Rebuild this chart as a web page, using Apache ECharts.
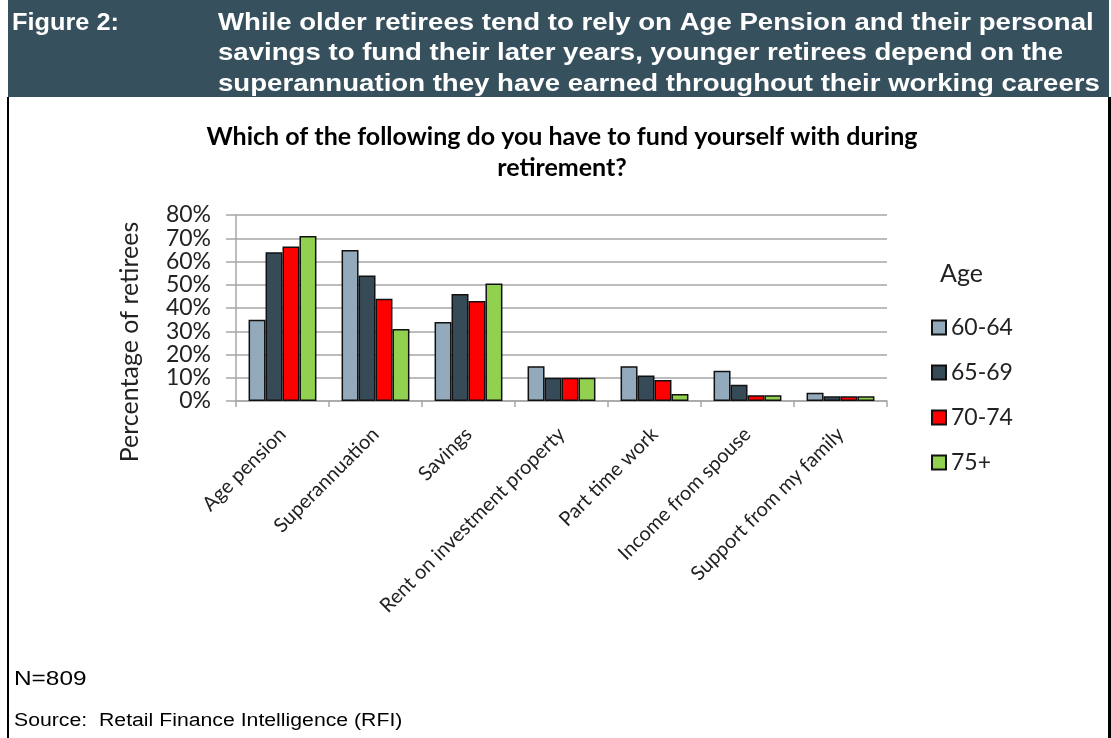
<!DOCTYPE html>
<html>
<head>
<meta charset="utf-8">
<script src="https://cdn.jsdelivr.net/npm/echarts@6/dist/echarts.min.js"></script>
<style>
  html, body { margin: 0; padding: 0; background: #ffffff; }
  #chart { width: 1111px; height: 738px; }
</style>
</head>
<body>
<div id="chart"></div>
<script>
// Funding sources during retirement, by age group (% of retirees)
const categories = ['Age pension', 'Superannuation', 'Savings', 'Rent on investment property',
                    'Part time work', 'Income from spouse', 'Support from my family'];
const ageGroups = ['60-64', '65-69', '70-74', '75+'];
const age60to64 = [35, 65, 34, 15, 15, 13, 3.6];
const age65to69 = [64, 54, 46, 10, 11, 7, 2];
const age70to74 = [66.5, 44, 43, 10, 9, 2.5, 2];
const age75plus = [71, 31, 50.5, 10, 3, 2.5, 2];
const yTicks = { min: 0, max: 80, step: 10 };

const seriesValues = [age60to64, age65to69, age70to74, age75plus];
const seriesColors = ['#92aabb', '#374a57', '#ff0000', '#92d050'];

const headlineLines = [
  'While older retirees tend to rely on Age Pension and their personal',
  'savings to fund their later years, younger retirees depend on the',
  'superannuation they have earned throughout their working careers'
];

const bodyFont = 'Lato, "Open Sans", sans-serif';
const headFont = '"Liberation Sans", Arial, sans-serif';

// Header / footer text in a slightly widened Arial face
function wideText(str, x, y, size, bold, color, sx) {
  return {
    type: 'text', x: x, y: y, scaleX: sx, z: 10,
    style: {
      text: str, fill: color, fontFamily: headFont, fontSize: size,
      fontWeight: bold ? 'bold' : 'normal', verticalAlign: 'middle', align: 'left'
    }
  };
}

const headerGraphics = [
  { type: 'rect', shape: { x: 8, y: 0, width: 1101, height: 97 }, style: { fill: '#37505d' }, z: 0 },
  { type: 'rect', shape: { x: 7, y: 97, width: 2, height: 641 }, style: { fill: '#000000' } },
  { type: 'rect', shape: { x: 1108, y: 97, width: 3, height: 641 }, style: { fill: '#000000' } },
  wideText('Figure 2:', 12, 23, 24, true, '#ffffff', 1.055)
].concat(headlineLines.map((s, i) => wideText(s, 218, 23 + i * 30.5, 24, true, '#ffffff', 1.15)))
 .concat([
  wideText('N=809', 14, 679, 20, false, '#000000', 1.22),
  wideText('Source:  Retail Finance Intelligence (RFI)', 14, 721, 18, false, '#000000', 1.18),
  {
    type: 'text', x: 130, y: 342, rotation: Math.PI / 2, z: 10,
    style: {
      text: 'Percentage of retirees', fill: '#222222', fontFamily: bodyFont, fontSize: 25,
      align: 'center', verticalAlign: 'middle'
    }
  }
]);

const chart = echarts.init(document.getElementById('chart'), null, { renderer: 'canvas' });

chart.setOption({
  backgroundColor: '#ffffff',
  animation: false,
  graphic: headerGraphics,
  title: [
    {
      text: 'Which of the following do you have to fund yourself with during\nretirement?',
      left: 557, top: 116, textAlign: 'center',
      textStyle: { fontFamily: bodyFont, fontWeight: 'bold', fontSize: 25, color: '#000000', lineHeight: 31, align: 'center' }
    },
    {
      text: 'Age',
      left: 935, top: 256,
      textStyle: { fontFamily: bodyFont, fontWeight: 'normal', fontSize: 25, color: '#222222' }
    }
  ],
  legend: {
    orient: 'vertical',
    left: 926, top: 311,
    itemWidth: 14, itemHeight: 14, itemGap: 22,
    icon: 'rect',
    data: ageGroups,
    textStyle: { fontFamily: bodyFont, fontSize: 23, color: '#222222' }
  },
  grid: { left: 236, right: 224, top: 215, bottom: 337, containLabel: false },
  xAxis: {
    type: 'category',
    data: categories,
    axisLine: { lineStyle: { color: '#a6a6a6', width: 1.5 } },
    axisTick: { show: true, length: 6, alignWithLabel: false, lineStyle: { color: '#a6a6a6', width: 1.5 } },
    axisLabel: {
      interval: 0, rotate: 45, margin: 30,
      fontFamily: bodyFont, fontSize: 20, color: '#222222'
    }
  },
  yAxis: {
    type: 'value',
    min: yTicks.min, max: yTicks.max, interval: yTicks.step,
    axisLine: { show: true, lineStyle: { color: '#a6a6a6', width: 1.5 } },
    axisTick: { show: true, length: 10, lineStyle: { color: '#a6a6a6', width: 1.5 } },
    axisLabel: { formatter: '{value}%', margin: 25, fontFamily: bodyFont, fontSize: 23, color: '#222222' },
    splitLine: { show: true, lineStyle: { color: '#a6a6a6', width: 1.5 } }
  },
  series: ageGroups.map((name, i) => ({
    name: name,
    type: 'bar',
    data: seriesValues[i],
    barGap: '0%',
    barCategoryGap: '27%',
    itemStyle: { color: seriesColors[i], borderColor: '#111111', borderWidth: 1.5 }
  }))
});
</script>
</body>
</html>
